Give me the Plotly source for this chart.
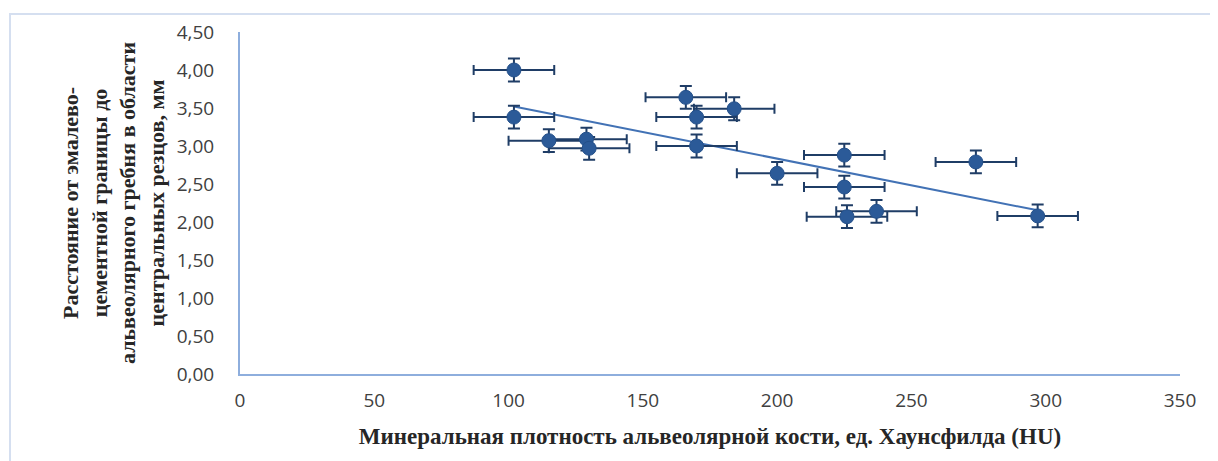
import numpy as np
import plotly.graph_objects as go

# Data
mineral_density_hu = [102, 102, 115, 129, 130, 166, 170, 184, 170, 200, 225, 225, 226, 237, 274, 297]
distance_mm = [4.00, 3.38, 3.07, 3.09, 2.97, 3.64, 3.38, 3.49, 3.00, 2.64, 2.88, 2.46, 2.07, 2.14, 2.79, 2.08]
x_error_hu = 15
y_error_mm = 0.15

x_tick_values = [0, 50, 100, 150, 200, 250, 300, 350]
y_tick_values = [0.0, 0.5, 1.0, 1.5, 2.0, 2.5, 3.0, 3.5, 4.0, 4.5]
y_tick_labels = ["0,00", "0,50", "1,00", "1,50", "2,00", "2,50", "3,00", "3,50", "4,00", "4,50"]

x_title = "Минеральная плотность альвеолярной кости, ед. Хаунсфилда (HU)"
y_title = ("Расстояние от эмалево-<br>цементной границы до<br>"
           "альвеолярного гребня в области<br>центральных резцов, мм")

# Linear trendline (least squares), drawn over the data range
slope, intercept = np.polyfit(mineral_density_hu, distance_mm, 1)
trend_x = [min(mineral_density_hu), max(mineral_density_hu)]
trend_y = [slope * v + intercept for v in trend_x]

fig = go.Figure()

fig.add_trace(go.Scatter(
    x=trend_x, y=trend_y, mode="lines",
    line=dict(color="#4272B5", width=2),
    hoverinfo="skip", showlegend=False,
))

fig.add_trace(go.Scatter(
    x=mineral_density_hu, y=distance_mm, mode="markers",
    marker=dict(size=14, color="#2B5A98", line=dict(color="#24508A", width=1)),
    error_x=dict(type="constant", value=x_error_hu, color="#1F3D66", thickness=2, width=5),
    error_y=dict(type="constant", value=y_error_mm, color="#1F3D66", thickness=2, width=6),
    showlegend=False,
))

# page body has an 8px margin; figure coords = screen coords - 8
W, H = 1210, 453
L, T, R, B = 232, 24, 1172, 366
px = lambda p: (p - 8 - L) / (R - L)
py = lambda p: (B - (p - 8)) / (B - T)
fig.add_shape(type="rect", xref="paper", yref="paper",
              x0=px(10), x1=px(1240), y0=py(14), y1=py(480),
              line=dict(color="#D5DFF0", width=2), fillcolor="rgba(0,0,0,0)", layer="below")

fig.update_layout(
    width=W, height=H,
    margin=dict(l=L, r=W - R, t=T, b=H - B),
    paper_bgcolor="white", plot_bgcolor="white",
    font=dict(family="Open Sans", size=19, color="#404040"),
    xaxis=dict(
        range=[0, 350], tickvals=x_tick_values, showgrid=False, zeroline=False,
        showline=True, linecolor="#8EAEDD", linewidth=2, ticks="",
        ticklabelstandoff=8,
        tickfont=dict(family="Open Sans", size=19, color="#404040"),
        title=dict(text=x_title, standoff=16,
                   font=dict(family="Liberation Serif", size=23, color="#262626", weight="bold")),
    ),
    yaxis=dict(
        range=[0, 4.5], tickvals=y_tick_values, ticktext=y_tick_labels,
        showgrid=False, zeroline=False,
        showline=True, linecolor="#8EAEDD", linewidth=2, ticks="",
        ticklabelstandoff=20,
        tickfont=dict(family="Open Sans", size=19, color="#404040"),
        title=dict(text=y_title, standoff=6,
                   font=dict(family="Liberation Serif", size=22, color="#262626", weight="bold")),
    ),
)

fig.write_html("out.html")
